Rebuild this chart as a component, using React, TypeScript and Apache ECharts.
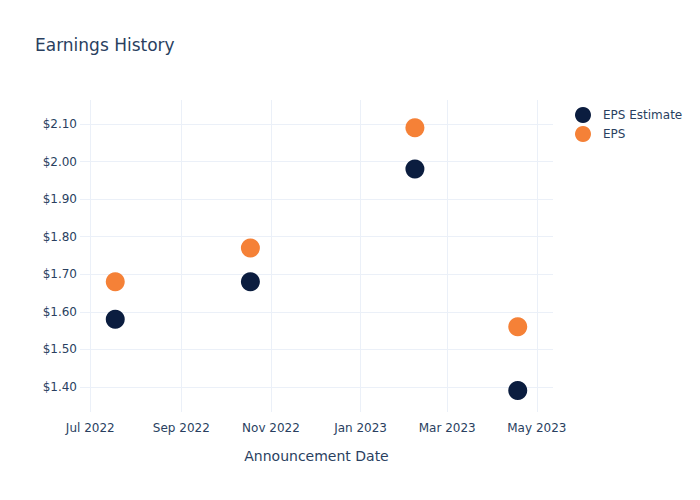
import React, { useEffect, useRef } from "react";
import * as echarts from "echarts";

const dates = ["2022-07-18", "2022-10-18", "2023-02-07", "2023-04-18"];
const epsEstimate = [1.58, 1.68, 1.98, 1.39];
const eps = [1.68, 1.77, 2.09, 1.56];
const xTicks = ["2022-07-01", "2022-09-01", "2022-11-01", "2023-01-01", "2023-03-01", "2023-05-01"];
const yTicks = [1.4, 1.5, 1.6, 1.7, 1.8, 1.9, 2.0, 2.1];
const monthNames = ["Jan", "Feb", "Mar", "Apr", "May", "Jun", "Jul", "Aug", "Sep", "Oct", "Nov", "Dec"];

const ts = (s: string) => {
  const [y, m, d] = s.split("-").map(Number);
  return Date.UTC(y, m - 1, d);
};

export default function App() {
  const ref = useRef<HTMLDivElement>(null);
  useEffect(() => {
    if (!ref.current) return;
    document.body.style.margin = "0";
    const chart = echarts.init(ref.current, null, { renderer: "svg" });
    const font = "DejaVu Sans, Open Sans, sans-serif";
    const textColor = "#2a3f5f";
    const gridColor = "#EBF0F8";
    chart.setOption({
      animation: false,
      backgroundColor: "#fff",
      textStyle: { fontFamily: font },
      title: {
        text: "Earnings History",
        left: 30,
        top: 31,
        textStyle: { fontSize: 17, fontWeight: "normal", color: textColor, fontFamily: font },
      },
      legend: {
        orient: "vertical",
        left: 570,
        top: 102,
        itemWidth: 26,
        itemHeight: 16,
        itemGap: 3,
        icon: "circle",
        textStyle: { fontSize: 12, color: textColor, fontFamily: font, padding: [0, 0, 0, 2] },
        data: ["EPS Estimate", "EPS"],
      },
      grid: { left: 80, right: 147, top: 100, bottom: 88, containLabel: false },
      xAxis: {
        type: "value",
        min: ts("2022-06-24"),
        max: ts("2023-05-12"),
        name: "Announcement Date",
        nameLocation: "middle",
        nameGap: 37,
        nameTextStyle: { fontSize: 14, color: textColor, fontFamily: font },
        axisLine: { show: false },
        axisTick: { show: false, customValues: xTicks.map(ts) },
        axisLabel: {
          customValues: xTicks.map(ts),
          color: textColor,
          fontSize: 12,
          margin: 10,
          fontFamily: font,
          formatter: (v: number) => {
            const d = new Date(v);
            return monthNames[d.getUTCMonth()] + " " + d.getUTCFullYear();
          },
        },
        splitLine: { show: true, lineStyle: { color: gridColor, width: 1 } },
      },
      yAxis: {
        type: "value",
        min: 1.333,
        max: 2.164,
        axisLine: { show: false },
        axisTick: { show: false, customValues: yTicks },
        axisLabel: {
          customValues: yTicks,
          color: textColor,
          fontSize: 12,
          margin: 3,
          fontFamily: font,
          formatter: (v: number) => "$" + v.toFixed(2),
        },
        splitLine: { show: true, lineStyle: { color: gridColor, width: 1 } },
      },
      series: [
        {
          name: "EPS Estimate",
          type: "scatter",
          symbol: "circle",
          symbolSize: 19,
          itemStyle: { color: "#0b1d3f", opacity: 1 },
          data: dates.map((d, i) => [ts(d), epsEstimate[i]]),
        },
        {
          name: "EPS",
          type: "scatter",
          symbol: "circle",
          symbolSize: 19,
          itemStyle: { color: "#f58137", opacity: 1 },
          data: dates.map((d, i) => [ts(d), eps[i]]),
        },
      ],
    });
    return () => chart.dispose();
  }, []);
  return <div ref={ref} style={{ width: 700, height: 500 }} />;
}
